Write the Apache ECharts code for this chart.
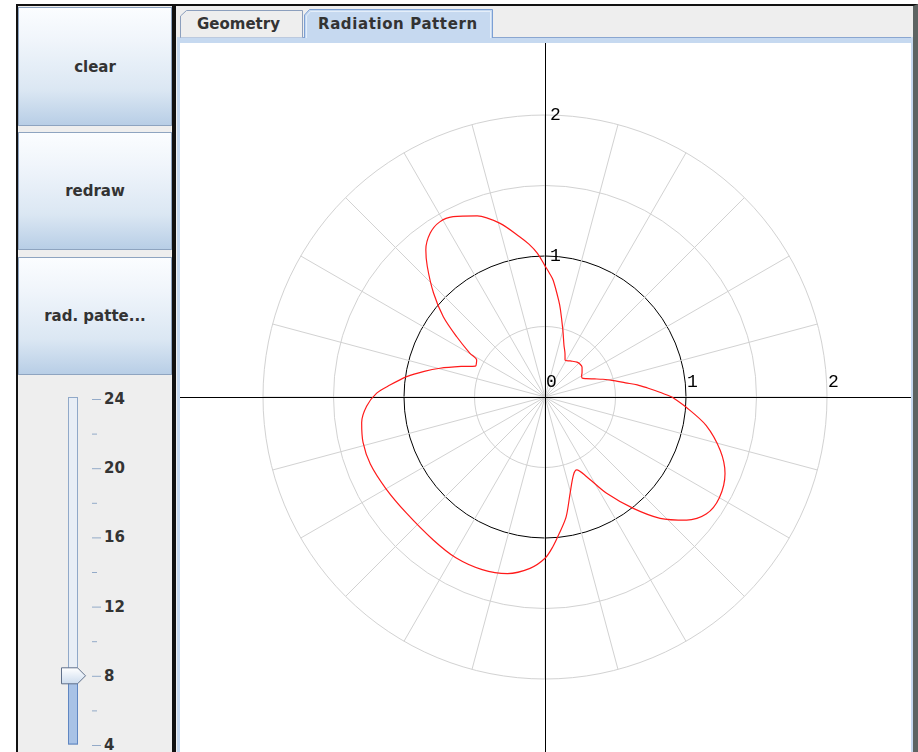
<!DOCTYPE html>
<html>
<head>
<meta charset="utf-8">
<title>Radiation Pattern</title>
<script src="https://cdn.jsdelivr.net/npm/echarts@6/dist/echarts.min.js"></script>
<style>
  html, body { margin: 0; padding: 0; width: 918px; height: 752px; overflow: hidden; background: #fff; }
  .abs { position: absolute; box-sizing: border-box; }
  #leftPanel { left: 16px; top: 4px; width: 158px; height: 748px; background: #eeeeee; border-left: 2px solid #111; border-top: 2px solid #111; }
  #divider { left: 172px; top: 4px; width: 4px; height: 748px; background: #111; }
  #rightPanel { left: 176px; top: 4px; width: 742px; height: 748px; background: #eeeeee; border-top: 2px solid #111; border-right: 5px solid #5d6462; }
  .btn { left: 18px; width: 154px; border: 1px solid #8ea4c0;
         background: linear-gradient(to bottom, #fbfdff 0%, #f0f5fb 28%, #dbe7f3 70%, #b8cee6 100%);
         color: #333; font: bold 15px "DejaVu Sans", sans-serif; display: flex; align-items: center; justify-content: center; }
  .tabText { font: bold 15px "DejaVu Sans", sans-serif; color: #333; top: 14px; height: 20px; line-height: 20px; white-space: nowrap; }
  .sLabel { left: 104px; font: bold 15px "DejaVu Sans", sans-serif; color: #333; height: 18px; line-height: 18px; }
  #content { left: 180px; top: 43px; width: 731px; height: 709px; background: #fff; }
  #chrome { left: 0; top: 0; width: 918px; height: 752px; pointer-events: none; }
</style>
</head>
<body>
<div id="leftPanel" class="abs"></div>
<div id="rightPanel" class="abs"></div>
<div id="divider" class="abs"></div>

<div class="abs btn" style="top:7px;height:119px;">clear</div>
<div class="abs btn" style="top:132px;height:118px;">redraw</div>
<div class="abs btn" style="top:257px;height:118px;">rad. patte...</div>

<svg id="chrome" class="abs" width="918" height="752">
  <defs>
    <linearGradient id="thumbFill" x1="0" y1="0" x2="0" y2="1">
      <stop offset="0" stop-color="#ffffff"/>
      <stop offset="1" stop-color="#cddcee"/>
    </linearGradient>
  </defs>
  <!-- tab strip and content frame -->
  <rect x="177" y="37" width="736" height="6" fill="#c6d9f0"/>
  <line x1="177" y1="37.5" x2="913" y2="37.5" stroke="#8aa6d0"/>
  <rect x="177" y="37" width="3" height="715" fill="#c6d9f0"/>
  <rect x="911" y="37" width="2" height="715" fill="#c6d9f0"/>
  <path d="M180.5,37.5 L180.5,16 L186.5,10.5 L302.5,10.5 L302.5,37.5" fill="#eeeeee" stroke="#8c9fbd"/>
  <path d="M304.5,38 L304.5,15 L309.5,9.5 L492.5,9.5 L492.5,38" fill="#c6d9f0" stroke="#7b9fd4"/>
  <path d="M306.5,38 L306.5,16 L310.5,11.5 L490.5,11.5 L490.5,38" fill="none" stroke="#e4eefa"/>
  <!-- slider track -->
  <g id="sliderGroup"></g>
</svg>
<div class="abs tabText" style="left:197px;">Geometry</div>
<div class="abs tabText" style="left:318px;letter-spacing:0.6px;">Radiation Pattern</div>

<div id="content" class="abs"></div>
<div id="sliderLabels"></div>

<script>
// Pattern samples: angle in degrees (counter-clockwise from +x) and normalised field strength
const angles = [0, 2.5, 5, 7.5, 10, 14, 17, 20, 24, 27, 30, 33, 36, 39, 43, 47.5, 55, 61.5, 65, 70,
  75, 80, 82, 86, 88, 90, 93, 96, 99, 104.5, 110.5, 117, 121, 125, 129, 132, 137, 141.7, 145.7, 149.8,
  151.6, 153, 156, 160, 164.7, 168, 171.6, 175.6, 178.7, 183, 188, 194, 201, 210, 220, 232, 241, 250, 258, 265,
  270, 273, 276, 280, 284.6, 290, 293.5, 297.6, 302.6, 308.4, 313.5, 319, 324, 330, 337, 343, 350, 356, 360];
const radii = [0.90, 0.81, 0.73, 0.66, 0.58, 0.49, 0.43, 0.375, 0.32, 0.295, 0.30, 0.313, 0.325, 0.338, 0.341, 0.336, 0.312, 0.298, 0.336, 0.393,
  0.49, 0.63, 0.694, 0.83, 0.88, 0.93, 1.02, 1.09, 1.151, 1.272, 1.372, 1.435, 1.449, 1.419, 1.343, 1.248, 1.081, 0.919, 0.758, 0.616,
  0.551, 0.545, 0.54, 0.633, 0.772, 0.876, 0.991, 1.103, 1.194, 1.267, 1.313, 1.33, 1.327, 1.302, 1.282, 1.287, 1.304, 1.303, 1.28, 1.22,
  1.144, 1.063, 0.972, 0.863, 0.706, 0.589, 0.564, 0.638, 0.811, 1.008, 1.186, 1.331, 1.413, 1.428, 1.387, 1.30, 1.16, 1.0, 0.90];

// Axis labels
const xTickLabels = [0, 1, 2];
const yTickLabels = [1, 2];
const ringValues = [0.5, 1, 1.5, 2];

// Slider state and scale
const sliderMin = 4;
const sliderMax = 24;
const sliderMajor = [24, 20, 16, 12, 8, 4];
const sliderMinor = [22, 18, 14, 10, 6];
const sliderValue = 8;

// ---- slider (Swing-style JSlider) ----
(function drawSlider() {
  const top = 399, bottom = 745;
  const yOf = v => bottom - (v - sliderMin) * (bottom - top) / (sliderMax - sliderMin);
  const ns = 'http://www.w3.org/2000/svg';
  const g = document.getElementById('sliderGroup');
  const el = (tag, attrs) => { const e = document.createElementNS(ns, tag); for (const k in attrs) e.setAttribute(k, attrs[k]); g.appendChild(e); return e; };
  const ty = yOf(sliderValue);
  el('rect', { x: 68.5, y: top - 1.5, width: 9, height: bottom - top + 0.5, fill: '#e8eef6', stroke: '#90a8c8' });
  el('rect', { x: 68.5, y: ty, width: 9, height: bottom - ty - 1, fill: '#a8c2e6', stroke: '#5f86c2' });
  el('path', { d: `M61.5,${ty - 8} L77.5,${ty - 8} L85.5,${ty} L77.5,${ty + 8} L61.5,${ty + 8} Z`,
               fill: 'url(#thumbFill)', stroke: '#60708a', 'stroke-linejoin': 'round' });
  sliderMajor.forEach(v => el('line', { x1: 92, y1: yOf(v) + 0.5, x2: 101, y2: yOf(v) + 0.5, stroke: '#93aac8' }));
  sliderMinor.forEach(v => el('line', { x1: 92, y1: yOf(v) + 0.5, x2: 97, y2: yOf(v) + 0.5, stroke: '#93aac8' }));
  const box = document.getElementById('sliderLabels');
  sliderMajor.forEach(v => {
    const d = document.createElement('div');
    d.className = 'abs sLabel';
    d.style.top = (yOf(v) - 9) + 'px';
    d.textContent = String(v);
    box.appendChild(d);
  });
})();

// ---- polar plot ----
const dom = document.getElementById('content');
const chart = echarts.init(dom, null, { renderer: 'canvas', width: 731, height: 709 });
const W = 731, H = 709;
const cx = 365, cy = 354;     // pole position inside the panel
const unitPx = 141;           // pixels per unit of field strength
const gray = '#d2d2d2';

const patternData = angles.map((a, i) => [radii[i], a]);

chart.setOption({
  animation: false,
  backgroundColor: '#ffffff',
  grid: { left: 0, right: 0, top: 0, bottom: 0, containLabel: false },
  xAxis: {
    type: 'value', min: -cx / unitPx, max: (W - cx) / unitPx,
    position: 'bottom', offset: -(H - cy),
    axisLine: { onZero: false, lineStyle: { color: '#000', width: 1 } },
    axisTick: { show: false }, splitLine: { show: false },
    axisLabel: { customValues: xTickLabels, inside: true, align: 'left', verticalAlign: 'bottom', margin: 6,
                 padding: [0, 0, 0, 1], color: '#000', fontFamily: 'Liberation Mono', fontSize: 18,
                 formatter: v => String(Math.round(v)) }
  },
  yAxis: {
    type: 'value', min: -(H - cy) / unitPx, max: cy / unitPx,
    position: 'left', offset: -cx,
    axisLine: { onZero: false, lineStyle: { color: '#000', width: 1 } },
    axisTick: { show: false }, splitLine: { show: false },
    axisLabel: { customValues: yTickLabels, inside: true, align: 'left', verticalAlign: 'middle', margin: 5,
                 color: '#000', fontFamily: 'Liberation Mono', fontSize: 18,
                 formatter: v => String(Math.round(v)) }
  },
  polar: { center: [cx, cy], radius: ringValues[ringValues.length - 1] * unitPx },
  angleAxis: {
    type: 'value', min: 0, max: 360, interval: 15, startAngle: 0, clockwise: false,
    axisLine: { show: false }, axisTick: { show: false }, axisLabel: { show: false },
    splitLine: { show: true, lineStyle: { color: gray, width: 1 } }
  },
  radiusAxis: {
    type: 'value', min: 0, max: ringValues[ringValues.length - 1], interval: 0.5,
    axisLine: { show: false }, axisTick: { show: false }, axisLabel: { show: false },
    splitLine: { show: true, lineStyle: { color: [gray, gray, '#000000', gray, gray], width: 1 } }
  },
  series: [{
    type: 'line', coordinateSystem: 'polar', data: patternData,
    showSymbol: false, symbol: 'none', smooth: 0.3,
    lineStyle: { color: '#ff1a1a', width: 1.2 }, z: 5
  }]
});
</script>
</body>
</html>
